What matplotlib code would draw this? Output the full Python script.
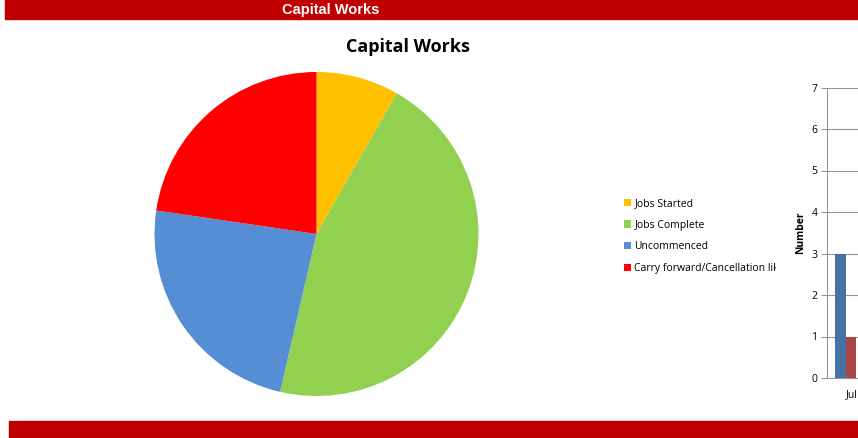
import matplotlib
matplotlib.use("Agg")
import matplotlib.pyplot as plt
from matplotlib.patches import Rectangle
from matplotlib.transforms import ScaledTranslation

W, H = 858, 438

# pie data
labels = ['Jobs Started', 'Jobs Complete', 'Uncommenced', 'Carry forward/Cancellation likely']
counts = [8, 44, 23, 22]
pie_colors = ['#FFC000', '#92D050', '#558ED5', '#FF0000']

# partially visible bar chart on the right edge
bar_cats = ['Jul']
bar_blue = [3]
bar_red = [1]
y_ticks = [0, 1, 2, 3, 4, 5, 6, 7]

dark_red = '#C00000'

fig = plt.figure(figsize=(W / 100, H / 100), dpi=100)

def px(x0, y0, w, h):
    # pixel box (top-left origin) -> figure fraction
    return [x0 / W, 1 - (y0 + h) / H, w / W, h / H]

# header and footer bands
fig.patches.append(Rectangle((5 / W, 1 - 19 / H), 1, 19 / H, transform=fig.transFigure,
                             color=dark_red, zorder=0))
fig.patches.append(Rectangle((9 / W, 0), 1, 17 / H, transform=fig.transFigure,
                             color=dark_red, zorder=0))
fig.text(331 / W, 1 - 10 / H, 'Capital Works', color='white', fontsize=10.5,
         fontweight='bold', family='Liberation Sans', ha='center', va='center')

# pie
ax = fig.add_axes(px(154.5, 72, 324, 324))
wedges, _ = ax.pie(counts, colors=pie_colors, startangle=90, counterclock=False,
                   wedgeprops=dict(linewidth=0))
ax.set_xlim(-1, 1)
ax.set_ylim(-1, 1)
ax.set_aspect('equal')

fig.text(408 / W, 1 - 47 / H, 'Capital Works', fontsize=13, fontweight='bold',
         family='Open Sans', ha='center', va='center')

leg = fig.legend(wedges, labels, loc='upper left', bbox_to_anchor=(623.5 / W, 1 - 198 / H),
                 frameon=False, handlelength=0.7, handleheight=0.7,
                 handletextpad=0.35, labelspacing=1.02, borderpad=0, borderaxespad=0,
                 prop={'family': 'Open Sans', 'size': 7.5})

# the legend area is cut off where the neighbouring chart starts
fig.patches.append(Rectangle((776 / W, 1 - 300 / H), 18 / W, 120 / H, transform=fig.transFigure,
                             color='white', zorder=10))

# bar chart (clipped by the figure edge)
bx = fig.add_axes(px(827, 87.5, 260, 290.5))
bw = 0.3
xs = list(range(len(bar_cats)))
bx.bar([x - bw / 2 for x in xs], bar_blue, width=bw, color='#4572A7', zorder=3)
bx.bar([x + bw / 2 for x in xs], bar_red, width=bw, color='#AA4643', zorder=3)
bx.set_xlim(-0.524, 6.76)
bx.set_ylim(0, 7)
bx.set_yticks(y_ticks)
bx.set_xticks(xs)
bx.set_xticklabels(bar_cats, fontsize=7.5, family='Open Sans', ha='left')
for lab in bx.get_xticklabels():
    lab.set_transform(lab.get_transform() + ScaledTranslation(7 / 100, 0, fig.dpi_scale_trans))
bx.tick_params(axis='x', length=0, pad=8)
bx.tick_params(axis='y', length=4, color='#969696', labelsize=7.5, pad=3)
for lab in bx.get_yticklabels():
    lab.set_family('Open Sans')
bx.grid(axis='y', color='#969696', linewidth=0.8)
bx.set_axisbelow(True)
for s in ['top', 'right']:
    bx.spines[s].set_visible(False)
bx.spines['left'].set_color('#969696')
bx.spines['bottom'].set_color('#969696')
bx.set_ylabel('Number', fontsize=7.5, fontweight='bold', family='Open Sans', labelpad=4)

fig.savefig('out.png', dpi=100)
